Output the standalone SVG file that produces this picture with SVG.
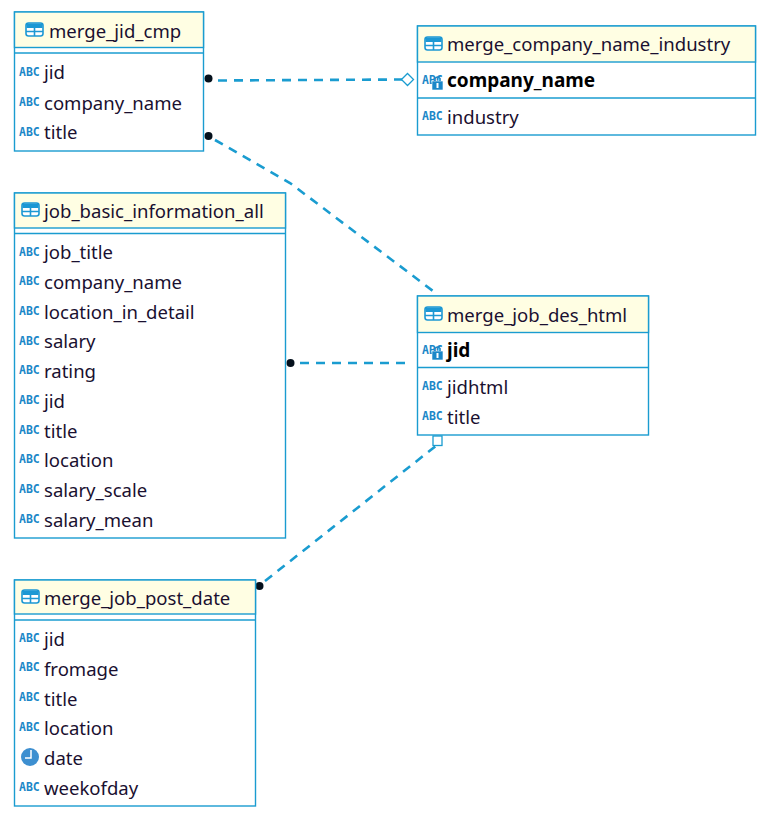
<svg xmlns="http://www.w3.org/2000/svg" width="771" height="830" viewBox="0 0 771 830">
<style>
text{font-family:"Noto Sans","Open Sans","Liberation Sans",sans-serif;font-size:18.55px;fill:#1a1030}
.b{font-weight:700;fill:#000;font-size:19px}
.ic{font-family:"DejaVu Sans Mono","Liberation Mono",monospace;font-size:11.5px;font-weight:700;fill:#1b87c8}
.box{fill:#fff;stroke:#1a9cd0;stroke-width:1.4}
.hd{fill:#fffee3;stroke:#1a9cd0;stroke-width:1.4}
.ln{stroke:#1a9cd0;stroke-width:1.4}
.c{fill:none;stroke:#1a9cd0;stroke-width:2.6;stroke-dasharray:9 7}
.dot{fill:#04101c}
.ti{fill:none;stroke:#1c98d4;stroke-width:1.6}
</style>
<defs>
<g id="tbl"><rect x="0" y="0" width="17" height="13" rx="2.5" fill="#fff" stroke="#1c98d4" stroke-width="1.6"/><path d="M0.500 2.500Q0.500 .5 2.500 .5H14.500Q16.500 .5 16.500 2.500V5H0.500Z" fill="#1c98d4"/><path d="M0 8.500H17M8.500 5V13" class="ti"/></g>
<g id="key"><rect x="-0.500" y="4" width="11" height="9" fill="#1b87c8" stroke="#fff" stroke-width=".6"/><path d="M2.500 4V1.500Q5 -1.500 7.500 1.500V4" fill="none" stroke="#1b87c8" stroke-width="1.600"/><rect x="4" y="6" width="2" height="5" fill="#fff"/></g>
</defs>

<g id="connectors">
<path class="c" d="M218 80.500 L402 79.500"/>
<path class="c" d="M215 140 L290 183 L437 294"/>
<path class="c" d="M300 363 H411"/>
<path class="c" d="M265 581 L437 445"/>
<circle class="dot" cx="208.500" cy="78.500" r="4"/>
<circle class="dot" cx="208.500" cy="136" r="4"/>
<circle class="dot" cx="290.500" cy="363" r="4"/>
<circle class="dot" cx="259.500" cy="586" r="4"/>
<path d="M401.500 79.500L407.500 73.500L413.500 79.500L407.500 85.500Z" fill="#fff" stroke="#1a9cd0" stroke-width="1.3"/>
<rect x="433" y="436" width="9" height="9.500" fill="#fff" stroke="#1a9cd0" stroke-width="1.3"/>
</g>

<g id="merge_jid_cmp">
<rect class="box" x="14.500" y="12" width="189" height="139"/>
<rect class="hd" x="14.500" y="12" width="189" height="35.500"/>
<path class="ln" d="M14.500 53H203.500"/>
<use href="#tbl" x="26" y="23"/>
<text x="49" y="38">merge_jid_cmp</text>
<text class="ic" x="19" y="76">ABC</text><text x="44" y="79">jid</text>
<text class="ic" x="19" y="106">ABC</text><text x="44" y="110">company_name</text>
<text class="ic" x="19" y="136">ABC</text><text x="44" y="139">title</text>
</g>

<g id="merge_company_name_industry">
<rect class="box" x="417.500" y="26" width="338" height="109"/>
<rect class="hd" x="417.500" y="26" width="338" height="36"/>
<path class="ln" d="M417.500 98H755.500"/>
<use href="#tbl" x="425" y="37"/>
<text x="447" y="51">merge_company_name_industry</text>
<text class="ic" x="422" y="84">ABC</text><use href="#key" x="432.500" y="77"/>
<text class="b" x="447" y="87">company_name</text>
<text class="ic" x="422" y="120">ABC</text><text x="447" y="124">industry</text>
</g>

<g id="job_basic_information_all">
<rect class="box" x="14.500" y="193" width="271" height="345"/>
<rect class="hd" x="14.500" y="193" width="271" height="35"/>
<path class="ln" d="M14.500 233.500H285.500"/>
<use href="#tbl" x="22" y="203"/>
<text x="44" y="218">job_basic_information_all</text>
<text class="ic" x="19" y="256">ABC</text><text x="44" y="259">job_title</text>
<text class="ic" x="19" y="285">ABC</text><text x="44" y="289">company_name</text>
<text class="ic" x="19" y="315">ABC</text><text x="44" y="319">location_in_detail</text>
<text class="ic" x="19" y="345">ABC</text><text x="44" y="348">salary</text>
<text class="ic" x="19" y="374">ABC</text><text x="44" y="378">rating</text>
<text class="ic" x="19" y="404">ABC</text><text x="44" y="408">jid</text>
<text class="ic" x="19" y="434">ABC</text><text x="44" y="438">title</text>
<text class="ic" x="19" y="463">ABC</text><text x="44" y="467">location</text>
<text class="ic" x="19" y="493">ABC</text><text x="44" y="497">salary_scale</text>
<text class="ic" x="19" y="523">ABC</text><text x="44" y="527">salary_mean</text>
</g>

<g id="merge_job_des_html">
<rect class="box" x="417.500" y="296" width="231" height="139"/>
<rect class="hd" x="417.500" y="296" width="231" height="36.500"/>
<path class="ln" d="M417.500 367.500H648.500"/>
<use href="#tbl" x="425" y="307"/>
<text x="447" y="322">merge_job_des_html</text>
<text class="ic" x="422" y="354">ABC</text><use href="#key" x="432.500" y="347"/>
<text class="b" x="447" y="357">jid</text>
<text class="ic" x="422" y="390">ABC</text><text x="447" y="394">jidhtml</text>
<text class="ic" x="422" y="420">ABC</text><text x="447" y="424">title</text>
</g>

<g id="merge_job_post_date">
<rect class="box" x="14.500" y="580" width="241" height="226"/>
<rect class="hd" x="14.500" y="580" width="241" height="34"/>
<path class="ln" d="M14.500 620H255.500"/>
<use href="#tbl" x="22" y="590"/>
<text x="44" y="605">merge_job_post_date</text>
<text class="ic" x="19" y="642">ABC</text><text x="44" y="646">jid</text>
<text class="ic" x="19" y="671">ABC</text><text x="44" y="676">fromage</text>
<text class="ic" x="19" y="701">ABC</text><text x="44" y="706">title</text>
<text class="ic" x="19" y="731">ABC</text><text x="44" y="735">location</text>
<circle cx="30" cy="757" r="9" fill="#3d8fd0"/><path d="M31 750V758H25" fill="none" stroke="#fff" stroke-width="1.500"/>
<text x="44" y="765">date</text>
<text class="ic" x="19" y="791">ABC</text><text x="44" y="795">weekofday</text>
</g>
</svg>
